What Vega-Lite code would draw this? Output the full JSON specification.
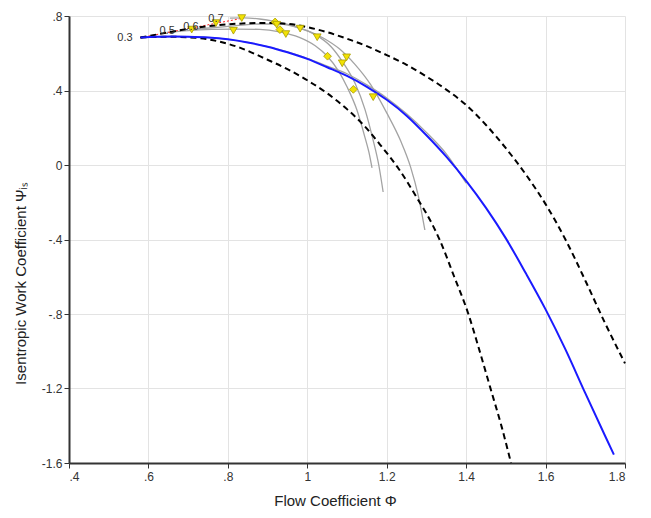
{
  "$schema": "https://vega.github.io/schema/vega-lite/v6.json",
  "width": 556,
  "height": 447,
  "autosize": {"type": "none"},
  "padding": {"left": 69, "top": 16, "right": 26, "bottom": 55},
  "config": {
    "font": "Liberation Sans",
    "view": {"stroke": null},
    "axis": {
      "gridColor": "#e3e3e3",
      "gridWidth": 1,
      "domainColor": "#333333",
      "domainWidth": 2,
      "tickColor": "#333333",
      "tickSize": 5,
      "labelFontSize": 12,
      "labelColor": "#333333",
      "labelPadding": 2,
      "titleFontSize": 15,
      "titleFontWeight": "normal",
      "titleColor": "#222222"
    }
  },
  "datasets": {
    "speed": [
      {"curve": "0.3", "phi": 0.58, "psi": 0.684},
      {"curve": "0.3", "phi": 0.62, "psi": 0.688},
      {"curve": "0.3", "phi": 0.66, "psi": 0.69},
      {"curve": "0.3", "phi": 0.7, "psi": 0.689},
      {"curve": "0.3", "phi": 0.75, "psi": 0.685},
      {"curve": "0.3", "phi": 0.8, "psi": 0.675},
      {"curve": "0.3", "phi": 0.85, "psi": 0.658},
      {"curve": "0.3", "phi": 0.9, "psi": 0.635},
      {"curve": "0.3", "phi": 0.95, "psi": 0.607},
      {"curve": "0.3", "phi": 1.0, "psi": 0.573},
      {"curve": "0.3", "phi": 1.05, "psi": 0.531},
      {"curve": "0.3", "phi": 1.1, "psi": 0.49},
      {"curve": "0.3", "phi": 1.15, "psi": 0.43},
      {"curve": "0.3", "phi": 1.2, "psi": 0.36},
      {"curve": "0.3", "phi": 1.25, "psi": 0.275},
      {"curve": "0.3", "phi": 1.3, "psi": 0.175},
      {"curve": "0.3", "phi": 1.35, "psi": 0.06},
      {"curve": "0.3", "phi": 1.4, "psi": -0.098},
      {"curve": "0.5", "phi": 0.646, "psi": 0.712},
      {"curve": "0.5", "phi": 0.7, "psi": 0.722},
      {"curve": "0.5", "phi": 0.76, "psi": 0.728},
      {"curve": "0.5", "phi": 0.82, "psi": 0.73},
      {"curve": "0.5", "phi": 0.88, "psi": 0.728},
      {"curve": "0.5", "phi": 0.93, "psi": 0.715},
      {"curve": "0.5", "phi": 0.98, "psi": 0.685},
      {"curve": "0.5", "phi": 1.02, "psi": 0.64},
      {"curve": "0.5", "phi": 1.05, "psi": 0.585},
      {"curve": "0.5", "phi": 1.08, "psi": 0.5},
      {"curve": "0.5", "phi": 1.1, "psi": 0.42},
      {"curve": "0.5", "phi": 1.125, "psi": 0.295},
      {"curve": "0.5", "phi": 1.145, "psi": 0.15},
      {"curve": "0.5", "phi": 1.155, "psi": 0.07},
      {"curve": "0.5", "phi": 1.163, "psi": -0.016},
      {"curve": "0.6", "phi": 0.705, "psi": 0.728},
      {"curve": "0.6", "phi": 0.76, "psi": 0.737},
      {"curve": "0.6", "phi": 0.82, "psi": 0.748},
      {"curve": "0.6", "phi": 0.88, "psi": 0.757},
      {"curve": "0.6", "phi": 0.93, "psi": 0.757},
      {"curve": "0.6", "phi": 0.98, "psi": 0.735},
      {"curve": "0.6", "phi": 1.02, "psi": 0.7},
      {"curve": "0.6", "phi": 1.06, "psi": 0.635},
      {"curve": "0.6", "phi": 1.09, "psi": 0.55},
      {"curve": "0.6", "phi": 1.12, "psi": 0.44},
      {"curve": "0.6", "phi": 1.145, "psi": 0.3},
      {"curve": "0.6", "phi": 1.165, "psi": 0.14},
      {"curve": "0.6", "phi": 1.18, "psi": 0.0},
      {"curve": "0.6", "phi": 1.191, "psi": -0.145},
      {"curve": "0.7", "phi": 0.805, "psi": 0.789},
      {"curve": "0.7", "phi": 0.84, "psi": 0.79},
      {"curve": "0.7", "phi": 0.88, "psi": 0.784},
      {"curve": "0.7", "phi": 0.92, "psi": 0.77},
      {"curve": "0.7", "phi": 0.96, "psi": 0.75},
      {"curve": "0.7", "phi": 1.0, "psi": 0.722},
      {"curve": "0.7", "phi": 1.04, "psi": 0.682},
      {"curve": "0.7", "phi": 1.08, "psi": 0.625},
      {"curve": "0.7", "phi": 1.12, "psi": 0.54},
      {"curve": "0.7", "phi": 1.16, "psi": 0.43},
      {"curve": "0.7", "phi": 1.2, "psi": 0.28},
      {"curve": "0.7", "phi": 1.235, "psi": 0.13},
      {"curve": "0.7", "phi": 1.26, "psi": -0.01},
      {"curve": "0.7", "phi": 1.28, "psi": -0.17},
      {"curve": "0.7", "phi": 1.296, "psi": -0.349}
    ],
    "surge": [
      {"phi": 0.58, "psi": 0.684},
      {"phi": 0.83, "psi": 0.785}
    ],
    "bounds": [
      {"curve": "upper", "phi": 0.58, "psi": 0.684},
      {"curve": "upper", "phi": 0.65, "psi": 0.712},
      {"curve": "upper", "phi": 0.7, "psi": 0.731},
      {"curve": "upper", "phi": 0.75, "psi": 0.745},
      {"curve": "upper", "phi": 0.8, "psi": 0.755},
      {"curve": "upper", "phi": 0.85, "psi": 0.761},
      {"curve": "upper", "phi": 0.9, "psi": 0.763},
      {"curve": "upper", "phi": 0.95, "psi": 0.758},
      {"curve": "upper", "phi": 1.0, "psi": 0.74},
      {"curve": "upper", "phi": 1.05, "psi": 0.713},
      {"curve": "upper", "phi": 1.1, "psi": 0.678},
      {"curve": "upper", "phi": 1.15, "psi": 0.638},
      {"curve": "upper", "phi": 1.2, "psi": 0.59},
      {"curve": "upper", "phi": 1.25, "psi": 0.538},
      {"curve": "upper", "phi": 1.3, "psi": 0.475},
      {"curve": "upper", "phi": 1.35, "psi": 0.405},
      {"curve": "upper", "phi": 1.4, "psi": 0.322},
      {"curve": "upper", "phi": 1.45, "psi": 0.215},
      {"curve": "upper", "phi": 1.5, "psi": 0.09},
      {"curve": "upper", "phi": 1.55, "psi": -0.05},
      {"curve": "upper", "phi": 1.6, "psi": -0.21},
      {"curve": "upper", "phi": 1.65, "psi": -0.4},
      {"curve": "upper", "phi": 1.7, "psi": -0.62},
      {"curve": "upper", "phi": 1.75, "psi": -0.85},
      {"curve": "upper", "phi": 1.8, "psi": -1.065},
      {"curve": "lower", "phi": 0.58, "psi": 0.684},
      {"curve": "lower", "phi": 0.65, "psi": 0.689},
      {"curve": "lower", "phi": 0.72, "psi": 0.683},
      {"curve": "lower", "phi": 0.78, "psi": 0.662},
      {"curve": "lower", "phi": 0.83, "psi": 0.63},
      {"curve": "lower", "phi": 0.9, "psi": 0.565},
      {"curve": "lower", "phi": 0.95, "psi": 0.515},
      {"curve": "lower", "phi": 1.0, "psi": 0.455},
      {"curve": "lower", "phi": 1.05, "psi": 0.385},
      {"curve": "lower", "phi": 1.1, "psi": 0.3},
      {"curve": "lower", "phi": 1.15, "psi": 0.195},
      {"curve": "lower", "phi": 1.183, "psi": 0.11},
      {"curve": "lower", "phi": 1.23, "psi": -0.02},
      {"curve": "lower", "phi": 1.28, "psi": -0.19},
      {"curve": "lower", "phi": 1.309, "psi": -0.295},
      {"curve": "lower", "phi": 1.334, "psi": -0.405},
      {"curve": "lower", "phi": 1.37, "psi": -0.6},
      {"curve": "lower", "phi": 1.405, "psi": -0.796},
      {"curve": "lower", "phi": 1.43, "psi": -0.97},
      {"curve": "lower", "phi": 1.46, "psi": -1.19},
      {"curve": "lower", "phi": 1.49, "psi": -1.41},
      {"curve": "lower", "phi": 1.513, "psi": -1.6}
    ],
    "fit": [
      {"phi": 0.58, "psi": 0.684},
      {"phi": 0.62, "psi": 0.688},
      {"phi": 0.66, "psi": 0.69},
      {"phi": 0.7, "psi": 0.689},
      {"phi": 0.75, "psi": 0.685},
      {"phi": 0.8, "psi": 0.675},
      {"phi": 0.85, "psi": 0.658},
      {"phi": 0.9, "psi": 0.635},
      {"phi": 0.95, "psi": 0.605},
      {"phi": 1.0, "psi": 0.57},
      {"phi": 1.05, "psi": 0.525},
      {"phi": 1.1, "psi": 0.478},
      {"phi": 1.15, "psi": 0.42},
      {"phi": 1.2, "psi": 0.35},
      {"phi": 1.25, "psi": 0.265},
      {"phi": 1.3, "psi": 0.16},
      {"phi": 1.35, "psi": 0.045},
      {"phi": 1.4, "psi": -0.085},
      {"phi": 1.45, "psi": -0.23},
      {"phi": 1.5, "psi": -0.394},
      {"phi": 1.55, "psi": -0.58},
      {"phi": 1.6, "psi": -0.775},
      {"phi": 1.65, "psi": -0.99},
      {"phi": 1.7, "psi": -1.225},
      {"phi": 1.75, "psi": -1.455},
      {"phi": 1.772, "psi": -1.555}
    ],
    "points": [
      {"type": "triangle", "phi": 0.709, "psi": 0.727},
      {"type": "triangle", "phi": 0.77, "psi": 0.762},
      {"type": "triangle", "phi": 0.835, "psi": 0.789},
      {"type": "triangle", "phi": 0.814, "psi": 0.721},
      {"type": "diamond", "phi": 0.919, "psi": 0.768},
      {"type": "triangle", "phi": 0.923, "psi": 0.753},
      {"type": "diamond", "phi": 0.931, "psi": 0.727},
      {"type": "triangle", "phi": 0.946, "psi": 0.703},
      {"type": "triangle", "phi": 0.982, "psi": 0.732},
      {"type": "triangle", "phi": 1.025, "psi": 0.686},
      {"type": "diamond", "phi": 1.051, "psi": 0.584},
      {"type": "triangle", "phi": 1.088, "psi": 0.546},
      {"type": "triangle", "phi": 1.099, "psi": 0.578},
      {"type": "diamond", "phi": 1.116, "psi": 0.406},
      {"type": "triangle", "phi": 1.166, "psi": 0.364}
    ],
    "labels": [
      {"label": "0.3", "phi": 0.541, "psi": 0.682},
      {"label": "0.5", "phi": 0.647, "psi": 0.72},
      {"label": "0.6", "phi": 0.707, "psi": 0.743},
      {"label": "0.7", "phi": 0.77, "psi": 0.785}
    ]
  },
  "encoding": {
    "x": {
      "field": "phi",
      "type": "quantitative",
      "scale": {"domain": [0.4, 1.8], "nice": false, "zero": false},
      "axis": {
        "values": [0.4, 0.6, 0.8, 1, 1.2, 1.4, 1.6, 1.8],
        "labelExpr": "replace(format(datum.value, '.1~f'), '0.', '.')",
        "title": "Flow Coefficient Φ",
        "titleX": 266,
        "titleY": 37,
        "titleBaseline": "middle",
        "labelPadding": 3
      }
    },
    "y": {
      "field": "psi",
      "type": "quantitative",
      "scale": {"domain": [-1.6, 0.8], "nice": false, "zero": false},
      "axis": {
        "values": [-1.6, -1.2, -0.8, -0.4, 0, 0.4, 0.8],
        "labelExpr": "replace(replace(format(datum.value, '.1~f'), '0.', '.'), '−', '-')",
        "title": "Isentropic Work Coefficient Ψᵢₛ",
        "titleX": -56,
        "titleY": 267,
        "titleBaseline": "top",
        "titleAlign": "center",
        "titleAngle": 270
      }
    }
  },
  "layer": [
    {
      "data": {"name": "speed"},
      "mark": {"type": "line", "color": "#a3a3a3", "strokeWidth": 1.3, "interpolate": "monotone"},
      "encoding": {"detail": {"field": "curve"}}
    },
    {
      "data": {"name": "surge"},
      "mark": {"type": "line", "color": "#ff2020", "strokeWidth": 1, "strokeDash": [2, 2]},
      "encoding": {}
    },
    {
      "data": {"name": "bounds"},
      "mark": {"type": "line", "color": "#000000", "strokeWidth": 2, "strokeDash": [6, 4], "interpolate": "monotone"},
      "encoding": {"detail": {"field": "curve"}}
    },
    {
      "data": {"name": "fit"},
      "mark": {"type": "line", "color": "#1a1aff", "strokeWidth": 2, "interpolate": "monotone"},
      "encoding": {}
    },
    {
      "data": {"name": "points"},
      "mark": {"type": "point", "filled": true, "fill": "#f2e205", "stroke": "#a89c00", "strokeWidth": 0.8, "size": 60, "opacity": 1},
      "encoding": {
        "shape": {
          "field": "type",
          "type": "nominal",
          "scale": {"domain": ["diamond", "triangle"], "range": ["diamond", "triangle-down"]},
          "legend": null
        }
      }
    },
    {
      "data": {"name": "labels"},
      "mark": {"type": "text", "fontSize": 11, "color": "#333333", "align": "center", "baseline": "middle"},
      "encoding": {"text": {"field": "label"}}
    }
  ]
}
